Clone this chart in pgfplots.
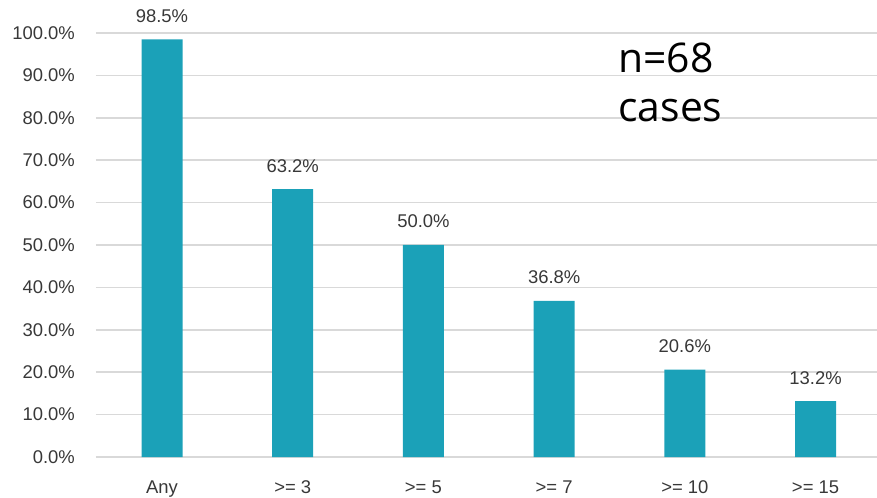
\documentclass[border=0pt]{standalone}
\usepackage{pgfplots}
\pgfplotsset{compat=1.18}
\usepackage{fontspec}
\setmainfont{Liberation Sans}
\newfontfamily\notefont{Open Sans}

\definecolor{barteal}{RGB}{27,161,184}
\definecolor{gridgray}{RGB}{217,217,217}
\definecolor{labelgray}{RGB}{56,56,56}

\begin{document}
\begin{tikzpicture}
\begin{axis}[
  scale only axis,
  width=781bp, height=424bp,
  xmin=-0.505, xmax=5.47,
  ymin=0, ymax=100,
  axis line style={draw=none},
  major tick length=0pt,
  xtick=data,
  xticklabels={Any, >= 3, >= 5, >= 7, >= 10, >= 15},
  ytick={0,10,...,100},
  yticklabels={0.0\%,10.0\%,20.0\%,30.0\%,40.0\%,50.0\%,60.0\%,70.0\%,80.0\%,90.0\%,100.0\%},
  ymajorgrids,
  grid style={gridgray, line width=1.7bp},
  /pgf/number format/assume math mode=true,
  tick label style={font=\fontsize{18.5}{20}\selectfont, text=labelgray, inner sep=0pt},
  xticklabel style={anchor=base, yshift=-36bp},
  yticklabel style={anchor=east, xshift=-21bp},
  clip=false,
  nodes near coords,
  point meta=explicit symbolic,
  every node near coord/.append style={font=\fontsize{18.5}{20}\selectfont, text=labelgray, anchor=base, inner sep=0pt, yshift=17bp},
]
\addplot[ybar, bar width=41bp, fill=barteal, draw=none] table[meta=lab] {
x y lab
0 98.5 98.5\%
1 63.2 63.2\%
2 50.0 50.0\%
3 36.8 36.8\%
4 20.6 20.6\%
5 13.2 13.2\%
};
\node[font=\notefont\fontsize{41}{48}\selectfont, anchor=base west, inner sep=0pt] at (axis cs:3.49,90.8) {n=68};
\node[font=\notefont\fontsize{41}{48}\selectfont, anchor=base west, inner sep=0pt] at (axis cs:3.49,79.2) {cases};
\end{axis}
\pgfresetboundingbox
\useasboundingbox (-96bp,-41bp) rectangle (781bp,457bp);
\end{tikzpicture}
\end{document}
